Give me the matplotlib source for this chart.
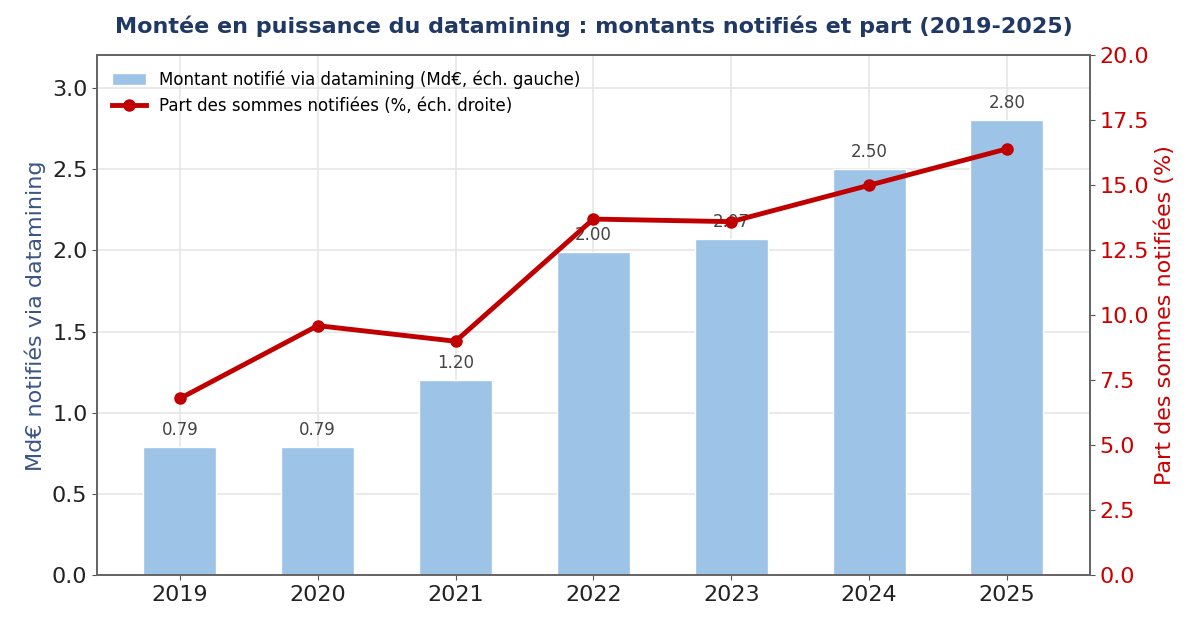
import numpy as np
import matplotlib.pyplot as plt

years = ['2019', '2020', '2021', '2022', '2023', '2024', '2025']
montants = [0.79, 0.79, 1.20, 1.99, 2.07, 2.50, 2.80]
montant_labels = ['0.79', '0.79', '1.20', '2.00', '2.07', '2.50', '2.80']
parts = [6.8, 9.6, 9.0, 13.7, 13.6, 15.0, 16.4]

x = np.arange(len(years))

fig = plt.figure(figsize=(12, 6.28), dpi=100)
ax = fig.add_axes([0.081, 0.084, 0.827, 0.828])
ax2 = ax.twinx()

ax.set_axisbelow(True)
ax.grid(True, color='#e6e6e6', linewidth=1.2)
bars = ax.bar(x, montants, width=0.53, color='#9dc3e6', edgecolor='white',
              linewidth=1, label='Montant notifié via datamining (Md€, éch. gauche)')
for xi, v, lab in zip(x, montants, montant_labels):
    ax.text(xi, v + 0.05, lab, ha='center', va='bottom', fontsize=12, color='#444444')

line, = ax2.plot(x, parts, color='#c00000', linewidth=3.5, marker='o', markersize=8,
                 label='Part des sommes notifiées (%, éch. droite)')

ax.set_xlim(-0.6, 6.6)
ax.set_ylim(0, 3.2)
ax2.set_ylim(0, 20)
ax.set_xticks(x)
ax.set_xticklabels(years)
ax.set_yticks(np.arange(0, 3.01, 0.5))
ax2.set_yticks(np.arange(0, 20.01, 2.5))

ax.tick_params(axis='both', labelsize=16, color='#555555', labelcolor='#222222')
ax2.tick_params(axis='y', labelsize=16, color='#555555', labelcolor='#cc0000')

for a in (ax, ax2):
    for s in a.spines.values():
        s.set_color('#666666')
        s.set_linewidth(1.3)

ax.set_ylabel('Md€ notifiés via datamining', fontsize=16, color='#3b5582')
ax2.set_ylabel('Part des sommes notifiées (%)', fontsize=16, color='#cc0000')
ax.set_title('Montée en puissance du datamining : montants notifiés et part (2019-2025)',
             fontsize=16, fontweight='bold', color='#1f3864', pad=16)

ax2.legend([bars, line], [bars.get_label(), line.get_label()], loc='upper left',
           frameon=False, fontsize=12)

fig.savefig('out.png', dpi=100)
